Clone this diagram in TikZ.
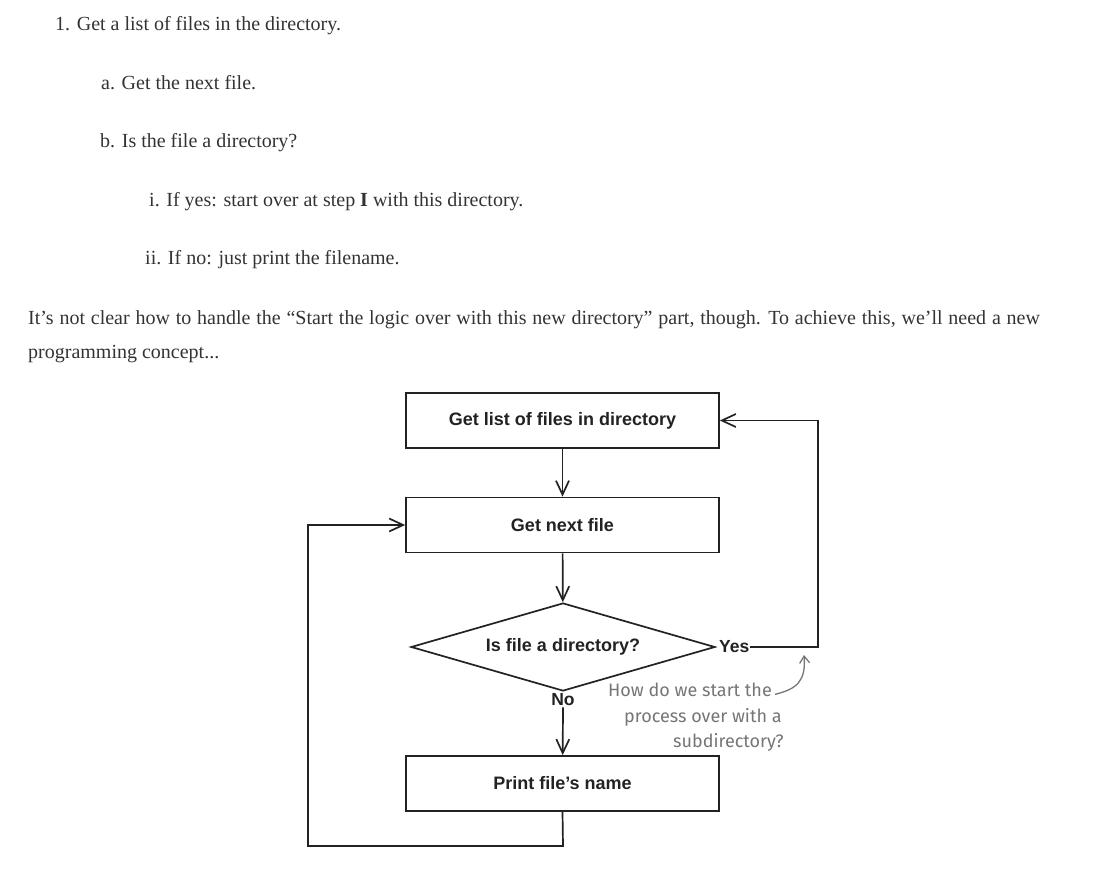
\documentclass[tikz,border=0pt]{standalone}
\usepackage{fontspec}
\setmainfont{Liberation Serif}
\newfontfamily\diagfont{Liberation Sans}
\newfontfamily\handfont{Fira Sans}
\usetikzlibrary{arrows.meta,shapes.geometric}
\definecolor{bodytext}{HTML}{333333}
\definecolor{ink}{HTML}{222222}
\definecolor{note}{HTML}{757575}
\begin{document}
\begin{tikzpicture}[x=1pt,y=-1pt,
  body/.style={anchor=base west,inner sep=0pt,text=bodytext,font=\fontsize{20}{24}\selectfont},
  stepbox/.style={draw=ink,line width=1.7pt,minimum width=313pt,minimum height=55pt,inner sep=0pt,
     font=\diagfont\bfseries\fontsize{18}{20}\selectfont,text=ink},
  decision/.style={draw=ink,line width=1.7pt,shape=diamond,aspect=3.45,minimum width=304pt,minimum height=88pt,inner sep=0pt,
     font=\diagfont\bfseries\fontsize{18}{20}\selectfont,text=ink},
  lbl/.style={inner sep=0pt,font=\diagfont\bfseries\fontsize{17.5}{20}\selectfont,text=ink},
  conn/.style={draw=ink,line width=1.7pt},
  arr/.style={conn,-{Straight Barb[length=14pt,width=13pt,line width=1.7pt]}},
  hand/.style={inner sep=0pt,text=note,font=\handfont\fontsize{18}{20}\selectfont,anchor=base west}
]
\useasboundingbox (0,0) rectangle (1111,885);
% text
\node[body] (t1) at (55,31) {1. Get a list of files in the directory.};
\node[body] (t2) at (101,90) {a. Get the next file.};
\node[body] (t3) at (100,148) {b. Is the file a directory?};
\node[body] (t4) at (149,207) {i. If yes: start over at step \textbf{I} with this directory.};
\node[body] (t5) at (145,265) {ii. If no: just print the filename.};
\node[body] (t6) at (28,324) {\spaceskip=5.8pt It’s not clear how to handle the “Start the logic over with this new directory” part, though. To achieve this, we’ll need a new};
\node[body] (t7) at (28,358) {programming concept...};
% diagram
\node[stepbox] (b1) at (562.5,420.5) {Get list of files in directory};
\node[stepbox] (b2) at (562.5,525) {Get next file};
\node[decision] (d) at (563,647) {Is file a directory?};
\node[stepbox] (b3) at (562.5,783.5) {Print file’s name};
\node[lbl,anchor=west] (yes) at (719,647) {Yes};
\node[lbl] (no) at (563,700) {No};
\coordinate (yr) at (818,647);
\coordinate (yt) at (818,420.5);
\coordinate (lb) at (563,846);
\coordinate (ll) at (308,846);
\coordinate (lt) at (308,525);
\draw[arr] (b1) -- (b2);
\draw[arr] (b2) -- (d);
\draw[arr] ([yshift=-1pt]no.south) -- (b3);
\draw[arr] (yes.east) -- (yr) -- (yt) -- (b1.east);
\draw[arr] (b3.south) -- (lb) -- (ll) -- (lt) -- (b2.west);
% annotation
\node[hand] (n1) at (608,696) {How do we start the};
\node[hand] (n2) at (624,722) {process over with a};
\node[hand] (n3) at (673,747) {subdirectory?};
\coordinate (tip) at (804,655);
\draw[draw=note,line width=1.3pt,-{Straight Barb[length=7pt,width=10pt,line width=1.3pt]}]
  ([xshift=3pt,yshift=-5pt]n1.east) .. controls (797,689) and (806,681) .. (tip);
\end{tikzpicture}
\end{document}
